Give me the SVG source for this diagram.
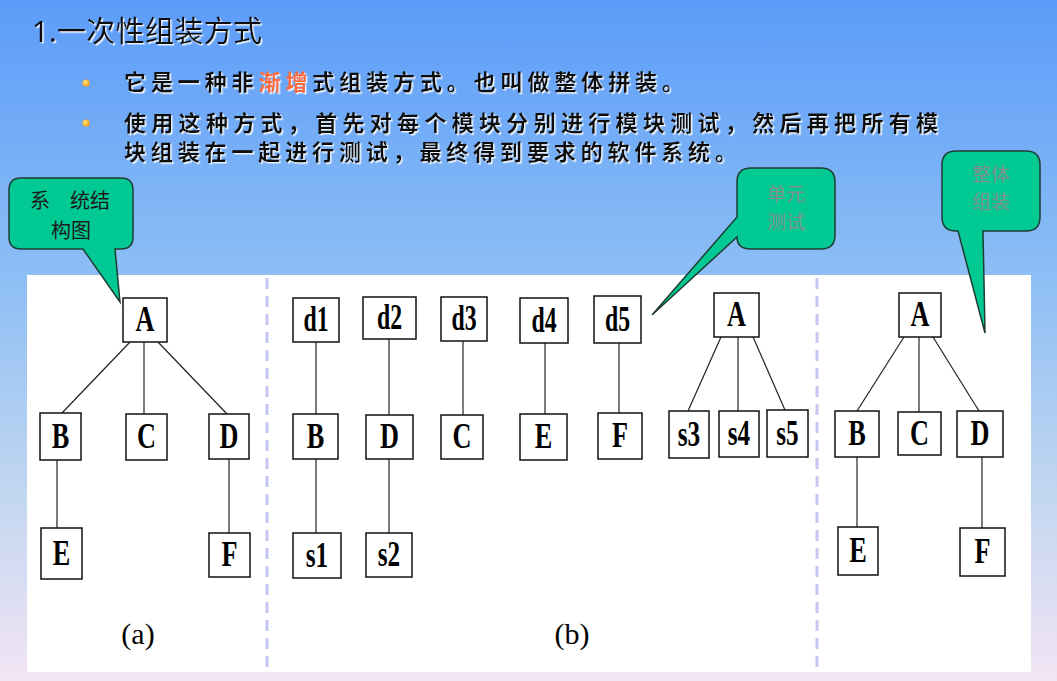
<svg xmlns="http://www.w3.org/2000/svg" width="1057" height="681" viewBox="0 0 1057 681">
<defs>
<linearGradient id="bg" x1="0" y1="0" x2="0" y2="1">
<stop offset="0" stop-color="#5c9cf9"/>
<stop offset="0.4" stop-color="#8cbef5"/>
<stop offset="0.75" stop-color="#c6d8f0"/>
<stop offset="1" stop-color="#f2e4f4"/>
</linearGradient>
<radialGradient id="dot" cx="0.4" cy="0.4" r="0.6">
<stop offset="0" stop-color="#ffe890"/>
<stop offset="1" stop-color="#ff9c00"/>
</radialGradient>
<filter id="sh" x="-5%" y="-20%" width="110%" height="150%">
<feDropShadow dx="1.5" dy="1.5" stdDeviation="0.3" flood-color="#ffffff" flood-opacity="0.85"/>
</filter>
</defs>
<style>
.title{font-family:"Noto Sans","Noto Sans CJK SC",sans-serif;font-size:29px;fill:#111;}
.body{font-family:"Noto Sans CJK SC",sans-serif;font-size:22px;font-weight:bold;fill:#111;}
.hl{fill:#ff6a3a;}
.call{fill:#00c994;stroke:#1f3d33;stroke-width:1.5;}
.ct{font-family:"Noto Sans CJK SC",sans-serif;font-size:20px;fill:#1a1a1a;text-anchor:middle;}
.cg{font-family:"Noto Sans CJK SC",sans-serif;font-size:19px;fill:#7f938c;text-anchor:middle;}
.n rect{fill:#fff;stroke:#111;stroke-width:1.5;}
.n text{font-family:"Liberation Serif",serif;font-size:35px;font-weight:bold;fill:#000;text-anchor:middle;}
.lab{font-family:"Liberation Serif",serif;font-size:30px;fill:#000;text-anchor:middle;}
.edges line{stroke:#222;stroke-width:1.2;}
.div{stroke:#c6c6f2;stroke-width:3;stroke-dasharray:11 7;}
</style>
<rect x="0" y="0" width="1057" height="681" fill="url(#bg)"/>
<text class="title" x="32" y="42" textLength="230" lengthAdjust="spacing" filter="url(#sh)">1.一次性组装方式</text>
<circle cx="86" cy="83" r="3.6" fill="url(#dot)"/>
<circle cx="86" cy="123" r="3.6" fill="url(#dot)"/>
<g filter="url(#sh)">
<text class="body" x="124" y="90" textLength="560" lengthAdjust="spacing">它是一种非<tspan class="hl">渐增</tspan>式组装方式。也叫做整体拼装。</text>
<text class="body" x="124" y="131" textLength="814" lengthAdjust="spacing">使用这种方式，首先对每个模块分别进行模块测试，然后再把所有模</text>
<text class="body" x="124" y="160" textLength="613" lengthAdjust="spacing">块组装在一起进行测试，最终得到要求的软件系统。</text>
</g>
<rect x="27" y="275" width="1004" height="397" fill="#ffffff"/>
<line class="div" x1="267" y1="278" x2="267" y2="668"/>
<line class="div" x1="817" y1="278" x2="817" y2="668"/>
<g id="callout-system">
<path class="call" d="M21,178 H121 Q133,178 133,190 V237 Q133,249 121,249 H115 L120,302 L83,249 H21 Q9,249 9,237 V190 Q9,178 21,178 Z"/>
<text class="ct" x="70" y="208">系　统结</text>
<text class="ct" x="71" y="238">构图</text>
</g>
<g id="callout-unit">
<path class="call" d="M751,168 H821 Q835,168 835,182 V235 Q835,249 821,249 H751 Q737,249 737,237 L652,315 L737,217 V182 Q737,168 751,168 Z"/>
<text class="cg" x="786" y="201">单元</text>
<text class="cg" x="786" y="229">测试</text>
</g>
<g id="callout-whole">
<path class="call" d="M956,151 H1026 Q1040,151 1040,165 V217 Q1040,231 1026,231 H983 L985,333 L958,231 H956 Q942,231 942,217 V165 Q942,151 956,151 Z"/>
<text class="cg" x="991" y="181">整体</text>
<text class="cg" x="991" y="209">组装</text>
</g>
<g id="connectors" class="edges">
<line x1="130" y1="342" x2="62" y2="413"/>
<line x1="144" y1="342" x2="144" y2="414"/>
<line x1="158" y1="342" x2="227" y2="414"/>
<line x1="57" y1="460" x2="57" y2="528"/>
<line x1="229" y1="459" x2="229" y2="533"/>
<line x1="316" y1="342" x2="316" y2="414"/>
<line x1="389" y1="339" x2="389" y2="415"/>
<line x1="463" y1="341" x2="463" y2="415"/>
<line x1="545" y1="343" x2="545" y2="414"/>
<line x1="619" y1="343" x2="619" y2="413"/>
<line x1="316" y1="459" x2="316" y2="533"/>
<line x1="389" y1="459" x2="389" y2="533"/>
<line x1="721" y1="337" x2="688" y2="411"/>
<line x1="738" y1="337" x2="738" y2="411"/>
<line x1="753" y1="337" x2="785" y2="410"/>
<line x1="904" y1="337" x2="857" y2="411"/>
<line x1="919" y1="337" x2="919" y2="412"/>
<line x1="933" y1="337" x2="979" y2="411"/>
<line x1="857" y1="457" x2="857" y2="527"/>
<line x1="982" y1="457" x2="982" y2="528"/>
</g>
<g id="a-A" class="n"><rect x="123" y="298" width="44" height="44"/><text transform="translate(145 331) scale(0.75 1)">A</text></g>
<g id="a-B" class="n"><rect x="40" y="413" width="41" height="47"/><text transform="translate(60.5 448) scale(0.75 1)">B</text></g>
<g id="a-C" class="n"><rect x="126" y="414" width="41" height="46"/><text transform="translate(146.5 448) scale(0.75 1)">C</text></g>
<g id="a-D" class="n"><rect x="209" y="414" width="40" height="45"/><text transform="translate(229 448) scale(0.75 1)">D</text></g>
<g id="a-E" class="n"><rect x="41" y="528" width="41" height="51"/><text transform="translate(61.5 565) scale(0.75 1)">E</text></g>
<g id="a-F" class="n"><rect x="209" y="533" width="41" height="44"/><text transform="translate(229.5 566) scale(0.75 1)">F</text></g>
<g id="b-d1" class="n"><rect x="293" y="298" width="46" height="44"/><text transform="translate(316 331) scale(0.68 1)">d1</text></g>
<g id="b-d2" class="n"><rect x="363" y="297" width="53" height="42"/><text transform="translate(389.5 329) scale(0.68 1)">d2</text></g>
<g id="b-d3" class="n"><rect x="441" y="297" width="46" height="44"/><text transform="translate(464 330) scale(0.68 1)">d3</text></g>
<g id="b-d4" class="n"><rect x="520" y="298" width="48" height="45"/><text transform="translate(544 331.5) scale(0.68 1)">d4</text></g>
<g id="b-d5" class="n"><rect x="594" y="296" width="47" height="47"/><text transform="translate(617.5 331) scale(0.68 1)">d5</text></g>
<g id="b-B" class="n"><rect x="293" y="414" width="45" height="45"/><text transform="translate(315.5 448) scale(0.75 1)">B</text></g>
<g id="b-D" class="n"><rect x="366" y="415" width="47" height="44"/><text transform="translate(389.5 448) scale(0.75 1)">D</text></g>
<g id="b-C" class="n"><rect x="441" y="415" width="42" height="44"/><text transform="translate(462 448) scale(0.75 1)">C</text></g>
<g id="b-E" class="n"><rect x="520" y="414" width="47" height="46"/><text transform="translate(543.5 448) scale(0.75 1)">E</text></g>
<g id="b-F" class="n"><rect x="598" y="413" width="44" height="46"/><text transform="translate(620 447) scale(0.75 1)">F</text></g>
<g id="b-s1" class="n"><rect x="293" y="533" width="48" height="45"/><text transform="translate(317 566.5) scale(0.72 1)">s1</text></g>
<g id="b-s2" class="n"><rect x="366" y="533" width="46" height="44"/><text transform="translate(389 566) scale(0.72 1)">s2</text></g>
<g id="b-A" class="n"><rect x="714" y="293" width="45" height="44"/><text transform="translate(736.5 326) scale(0.75 1)">A</text></g>
<g id="b-s3" class="n"><rect x="669" y="411" width="40" height="47"/><text transform="translate(689 445.5) scale(0.72 1)">s3</text></g>
<g id="b-s4" class="n"><rect x="719" y="411" width="40" height="46"/><text transform="translate(739 445) scale(0.72 1)">s4</text></g>
<g id="b-s5" class="n"><rect x="767" y="410" width="41" height="47"/><text transform="translate(787.5 444.5) scale(0.72 1)">s5</text></g>
<g id="c-A" class="n"><rect x="899" y="293" width="42" height="44"/><text transform="translate(920 326) scale(0.75 1)">A</text></g>
<g id="c-B" class="n"><rect x="835" y="411" width="44" height="46"/><text transform="translate(857 445) scale(0.75 1)">B</text></g>
<g id="c-C" class="n"><rect x="898" y="412" width="43" height="43"/><text transform="translate(919.5 444.5) scale(0.75 1)">C</text></g>
<g id="c-D" class="n"><rect x="957" y="411" width="46" height="46"/><text transform="translate(980 445) scale(0.75 1)">D</text></g>
<g id="c-E" class="n"><rect x="838" y="527" width="40" height="48"/><text transform="translate(858 562) scale(0.75 1)">E</text></g>
<g id="c-F" class="n"><rect x="960" y="528" width="45" height="48"/><text transform="translate(982.5 563) scale(0.75 1)">F</text></g>
<text class="lab" x="138" y="644">(a)</text>
<text class="lab" x="572" y="644">(b)</text>
</svg>
